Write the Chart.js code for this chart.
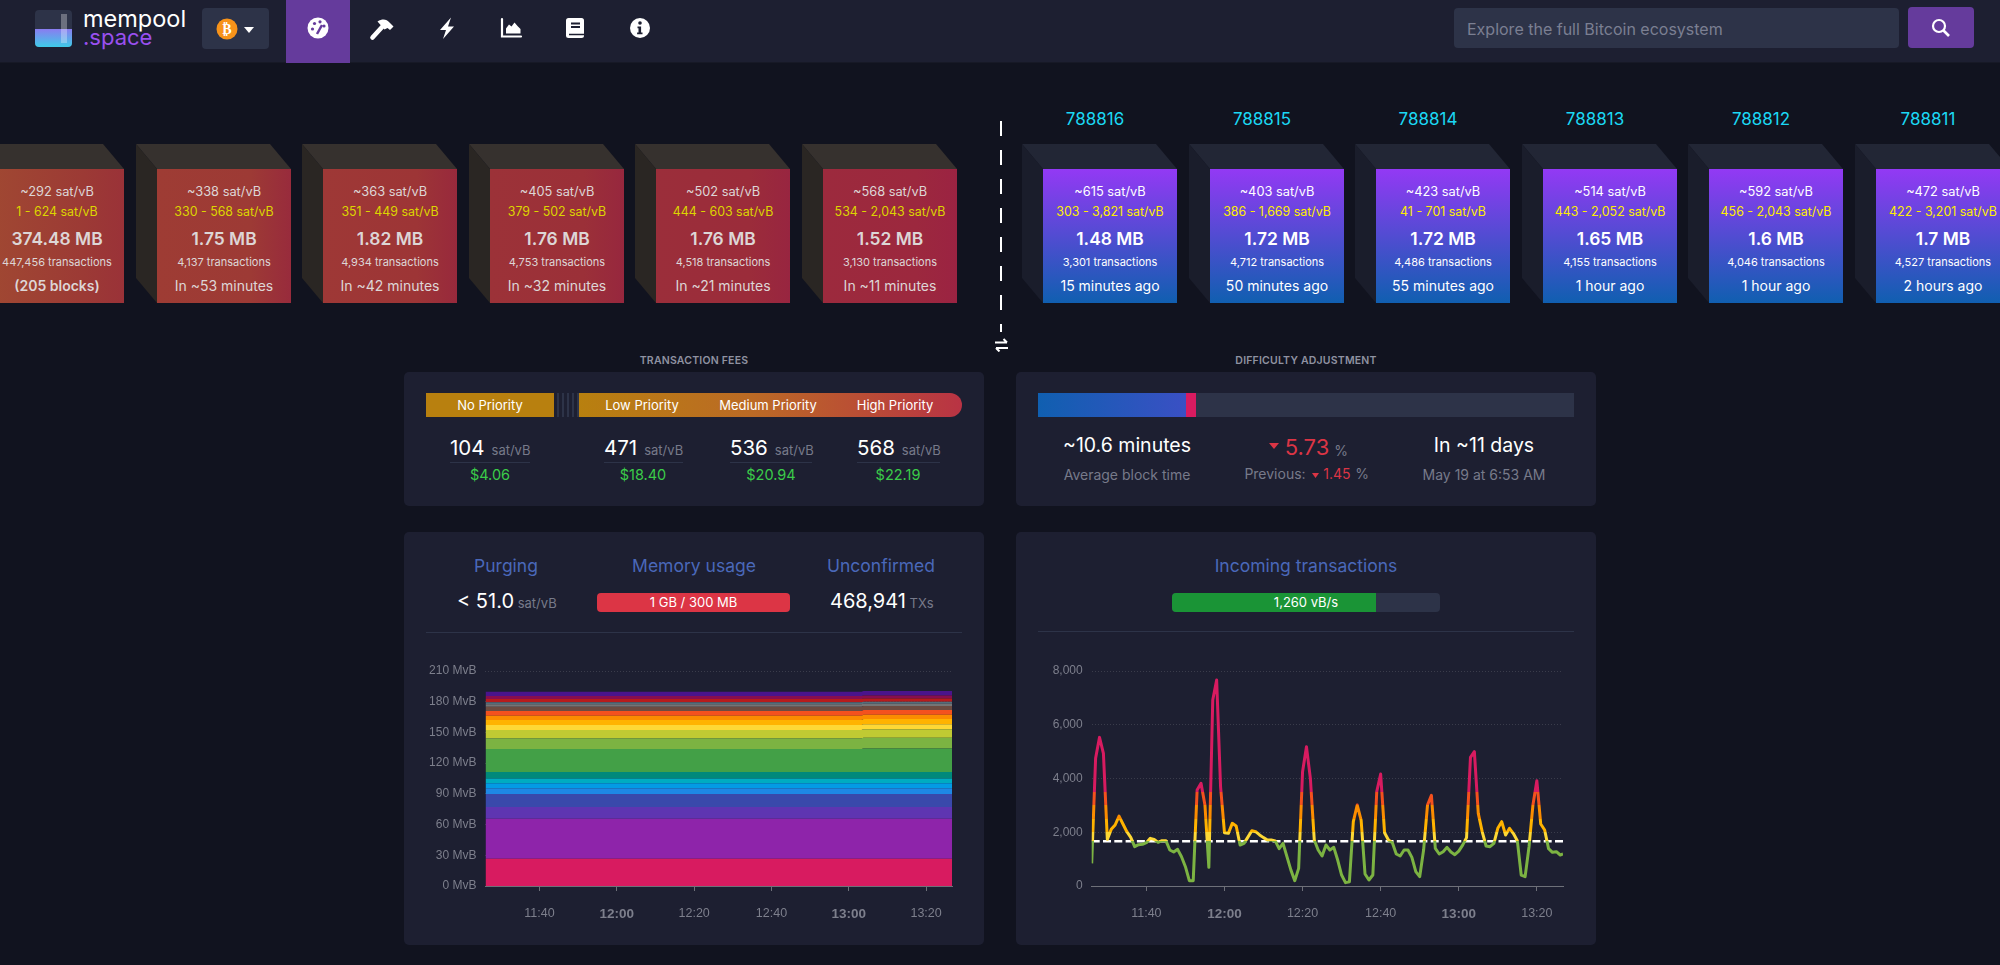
<!DOCTYPE html>
<html>
<head>
<meta charset="utf-8">
<title>mempool - Bitcoin Explorer</title>
<script src="https://cdn.jsdelivr.net/npm/chart.js@4"></script>
<style>
html,body{margin:0;padding:0;background:#11131f;}
body{width:2000px;height:965px;overflow:hidden;position:relative;font-family:Inter,"Noto Sans",sans-serif;color:#fff;}
.abs{position:absolute;}
.t{position:absolute;white-space:nowrap;transform:translate(-50%,-50%);}
.card{position:absolute;background:#1d1f31;border-radius:5px;}
.header{position:absolute;left:0;top:0;width:2000px;height:63px;background:#1d1f31;border-bottom:1px solid #171926;box-sizing:border-box;}
.nav{position:absolute;top:14px;width:28px;height:28px;}
.face{position:absolute;top:169px;width:134px;height:134px;}
.grey{color:#777a8a;}
.sect{font-size:10.5px;font-weight:600;color:#8f92a1;letter-spacing:.2px;}
.blue{color:#4a68b9;font-size:17.5px;}
canvas{position:absolute;}
</style>
</head>
<body>
<div class="header"></div>

<!-- logo -->
<div class="abs" style="left:35px;top:10px;width:37px;height:37px;border-radius:4px;background:#2d3348;overflow:hidden">
  <div class="abs" style="left:0;top:19px;width:37px;height:18px;background:linear-gradient(#8a7cf0,#3ecbe8)"></div>
  <div class="abs" style="left:26px;top:4px;width:6px;height:29px;background:rgba(255,255,255,.3)"></div>
</div>
<div class="t" style="left:83px;top:19px;transform:translateY(-50%);font-size:23.5px;line-height:18px">mempool</div>
<div class="t" style="left:83px;top:37px;transform:translateY(-50%);font-size:22px;line-height:17px;color:#9a50f0">.space</div>

<!-- network selector -->
<div class="abs" style="left:202px;top:8px;width:67px;height:41px;background:#2d3348;border-radius:4px"></div>
<div class="t" style="left:227px;top:29px;width:21px;height:21px;border-radius:50%;background:#f7931a;font-size:14px;font-weight:700;line-height:21px;text-align:center;font-family:'DejaVu Sans'">₿</div>
<svg class="abs" style="left:244px;top:27px" width="10" height="7"><path d="M0 0H10L5 6Z" fill="#fff"/></svg>

<!-- nav -->
<div class="abs" style="left:286px;top:0;width:64px;height:63px;background:#653b9c"></div>
<svg class="nav" style="left:304px" viewBox="0 0 28 28"><circle cx="14" cy="14" r="10.5" fill="#fff"/><circle cx="8.5" cy="15" r="1.6" fill="#653b9c"/><circle cx="10.5" cy="9.5" r="1.6" fill="#653b9c"/><circle cx="16" cy="7.8" r="1.6" fill="#653b9c"/><circle cx="20" cy="12" r="1.6" fill="#653b9c"/><path d="M13 20L18 11" stroke="#653b9c" stroke-width="2.5"/></svg>
<svg class="nav" style="left:368px" viewBox="0 0 28 28"><path d="M4.5 23.5L15 12" stroke="#fff" stroke-width="4.6" stroke-linecap="round"/><path d="M9.5 7.5c5-3 9-2.5 12 1l4 4-3.5 3.5-2.5-2-3 1.5Z" fill="#fff"/></svg>
<svg class="nav" style="left:433px" viewBox="0 0 28 28"><path d="M18 3.5L7 16h6l-3 9 11-12.5h-6Z" fill="#fff"/></svg>
<svg class="nav" style="left:497px" viewBox="0 0 28 28"><path d="M5 5V22.5H24" fill="none" stroke="#fff" stroke-width="2.2" stroke-linecap="round"/><path d="M9 19.5v-5l3-4 2.5 2 3-4 3 3.500 3 3v4.500Z" fill="#fff"/></svg>
<svg class="nav" style="left:561px" viewBox="0 0 28 28"><rect x="5" y="4" width="18" height="20" rx="2.500" fill="#fff"/><path d="M10 9.500h9M10 13h9" stroke="#1d1f31" stroke-width="1.800"/><path d="M8 20.500h15" stroke="#1d1f31" stroke-width="1.500"/></svg>
<svg class="nav" style="left:626px" viewBox="0 0 28 28"><circle cx="14" cy="14" r="10" fill="#fff"/><circle cx="14" cy="9" r="1.800" fill="#1d1f31"/><path d="M11.500 12.500h3.600v6h1.400v1.800h-5.400v-1.800h1.400v-4.200h-1Z" fill="#1d1f31"/></svg>

<!-- search -->
<div class="abs" style="left:1454px;top:8px;width:445px;height:40px;background:#2d3348;border-radius:4px"></div>
<div class="t" style="left:1467px;top:29px;transform:translateY(-50%);font-size:16px;color:#7b7f92">Explore the full Bitcoin ecosystem</div>
<div class="abs" style="left:1908px;top:7px;width:66px;height:41px;background:#653b9c;border-radius:4px"></div>
<svg class="abs" style="left:1931px;top:18px" width="20" height="20"><circle cx="8" cy="8" r="6" fill="none" stroke="#fff" stroke-width="2.2"/><path d="M12.500 12.500L18 18" stroke="#fff" stroke-width="2.6"/></svg>

<div id="blocks"></div>

<!-- divider between mempool and chain -->
<div class="abs" style="left:1000px;top:121px;width:2px;height:211px;background:repeating-linear-gradient(#fff 0 15px,transparent 15px 29px)"></div>
<svg class="abs" style="left:994px;top:338px" width="15" height="14"><path d="M1 4.500H13M9.500 1L13 4.500M14 10H2M5.500 13.500L2 10" stroke="#fff" stroke-width="2" fill="none"/></svg>

<!-- fees -->
<div class="t sect" style="left:694px;top:360px">TRANSACTION FEES</div>
<div class="card" style="left:404px;top:372px;width:580px;height:134px"></div>
<div class="abs" style="left:426px;top:393px;width:128px;height:24px;background:#b8800f"></div>
<div class="abs" style="left:554px;top:393px;width:25px;height:24px;background:repeating-linear-gradient(90deg,transparent 0 3px,#2d3348 3px 5px)"></div>
<div class="abs" style="left:579px;top:393px;width:383px;height:24px;background:linear-gradient(90deg,#b8800f,#bb6a25 45%,#b93344);border-radius:0 12px 12px 0"></div>
<div id="fees"></div>

<!-- difficulty -->
<div class="t sect" style="left:1306px;top:360px">DIFFICULTY ADJUSTMENT</div>
<div class="card" style="left:1016px;top:372px;width:580px;height:134px"></div>
<div class="abs" style="left:1038px;top:393px;width:536px;height:24px;background:#2d3348"></div>
<div class="abs" style="left:1038px;top:393px;width:148px;height:24px;background:linear-gradient(90deg,#105fb0,#3a50c4)"></div>
<div class="abs" style="left:1186px;top:393px;width:10px;height:24px;background:#d81b60"></div>
<div class="t" style="left:1127px;top:445px;font-size:19.5px">~10.6 minutes</div>
<div class="t grey" style="left:1127px;top:474px;font-size:14px">Average block time</div>
<svg class="abs" style="left:1269px;top:443px" width="10" height="7"><path d="M0 0H10L5 6Z" fill="#dc3545"/></svg>
<div class="t" style="left:1307px;top:447px;font-size:22px;color:#dc3545">5.73</div>
<div class="t grey" style="left:1341px;top:450px;font-size:14px">%</div>
<div class="t grey" style="left:1275px;top:473px;font-size:14px">Previous:</div>
<svg class="abs" style="left:1312px;top:473px" width="7" height="5"><path d="M0 0H7L3.500 5Z" fill="#dc3545"/></svg>
<div class="t" style="left:1337px;top:473px;font-size:14px;color:#dc3545">1.45</div>
<div class="t grey" style="left:1362px;top:473px;font-size:14px">%</div>
<div class="t" style="left:1484px;top:445px;font-size:19.5px">In ~11 days</div>
<div class="t grey" style="left:1484px;top:474px;font-size:14px">May 19 at 6:53 AM</div>

<!-- mempool card -->
<div class="card" style="left:404px;top:532px;width:580px;height:413px"></div>
<div class="t blue" style="left:506px;top:565px">Purging</div>
<div class="t blue" style="left:694px;top:565px">Memory usage</div>
<div class="t blue" style="left:881px;top:565px">Unconfirmed</div>
<div class="t" style="left:457px;top:601px;transform:translateY(-50%);font-size:20px">&lt; 51.0 <span class="grey" style="font-size:13px;margin-left:-2px">sat/vB</span></div>
<div class="abs" style="left:597px;top:593px;width:193px;height:19px;background:#dc3545;border-radius:4px;font-size:13px;line-height:19px;text-align:center">1 GB / 300 MB</div>
<div class="t" style="left:830px;top:601px;transform:translateY(-50%);font-size:20px">468,941 <span class="grey" style="font-size:13px;margin-left:-2px">TXs</span></div>
<div class="abs" style="left:426px;top:632px;width:536px;height:1px;background:#2d3348"></div>
<canvas id="memChart" width="560" height="290" style="left:410px;top:650px;width:560px;height:290px"></canvas>

<!-- incoming card -->
<div class="card" style="left:1016px;top:532px;width:580px;height:413px"></div>
<div class="t blue" style="left:1306px;top:565px">Incoming transactions</div>
<div class="abs" style="left:1172px;top:593px;width:268px;height:19px;background:#2d3348;border-radius:4px"></div>
<div class="abs" style="left:1172px;top:593px;width:204px;height:19px;background:#1a9436;border-radius:4px 0 0 4px"></div>
<div class="t" style="left:1306px;top:602px;font-size:13px">1,260 vB/s</div>
<div class="abs" style="left:1038px;top:631px;width:536px;height:1px;background:#2d3348"></div>
<canvas id="inChart" width="560" height="290" style="left:1020px;top:650px;width:560px;height:290px"></canvas>

<script>
// mempool blocks (left of the divider)
const pendingCenters = [57, 224, 390, 557, 723, 890];
const pendingMedian = ["~292", "~338", "~363", "~405", "~502", "~568"];
const pendingRange = ["1 - 624", "330 - 568", "351 - 449", "379 - 502", "444 - 603", "534 - 2,043"];
const pendingSize = ["374.48 MB", "1.75 MB", "1.82 MB", "1.76 MB", "1.76 MB", "1.52 MB"];
const pendingTx = ["447,456", "4,137", "4,934", "4,753", "4,518", "3,130"];
const pendingEta = ["(205 blocks)", "In ~53 minutes", "In ~42 minutes", "In ~32 minutes", "In ~21 minutes", "In ~11 minutes"];
const pendingColorL = ["#a04832", "#9e3c34", "#9e3836", "#9c3238", "#9b2e3a", "#9c2a3d"];
const pendingColorM = ["#9c3a35", "#9d3a35", "#9d3536", "#9b3038", "#9b2c3a", "#9c283e"];
const pendingColorR = ["#9a3238", "#982b3c", "#98293c", "#97273e", "#982540", "#9b2342"];

// mined blocks (right of the divider)
const minedCenters = [1110, 1277, 1443, 1610, 1776, 1943];
const minedHeight = ["788816", "788815", "788814", "788813", "788812", "788811"];
const minedMedian = ["~615", "~403", "~423", "~514", "~592", "~472"];
const minedRange = ["303 - 3,821", "386 - 1,669", "41 - 701", "443 - 2,052", "456 - 2,043", "422 - 3,201"];
const minedSize = ["1.48 MB", "1.72 MB", "1.72 MB", "1.65 MB", "1.6 MB", "1.7 MB"];
const minedTx = ["3,301", "4,712", "4,486", "4,155", "4,046", "4,527"];
const minedAge = ["15 minutes ago", "50 minutes ago", "55 minutes ago", "1 hour ago", "1 hour ago", "2 hours ago"];

// fee table
const feeLabels = ["No Priority", "Low Priority", "Medium Priority", "High Priority"];
const feeLabelX = [490, 642, 768, 895];
const feeValues = ["104", "471", "536", "568"];
const feeLeft = [450, 604, 730, 857];
const feeRight = [530, 683, 812, 940];
const feeFiat = ["$4.06", "$18.40", "$20.94", "$22.19"];
const feeFiatX = [490, 643, 771, 898];

// chart axes, minutes since midnight
const xTickMinutes = [700, 720, 740, 760, 780, 800];
const xTickLabels = ["11:40", "12:00", "12:20", "12:40", "13:00", "13:20"];
const xStart = 686;
const xEnd = 806.7;

// mempool size by fee band, MvB, before and after the small step near 13:03
const bandTimes = [686, 783.3, 783.8, 806.7];
const bandColors = ["#D81B60", "#8E24AA", "#5E35B1", "#3949AB", "#1E88E5", "#039BE5", "#00ACC1", "#00897B", "#43A047", "#7CB342", "#C0CA33", "#FDD835", "#FFB300", "#FB8C00", "#F4511E", "#6D4C41", "#757575", "#546E7A", "#B71C1C", "#880E4F", "#4A148C"];
const bandSizeBefore = [26.7, 39.1, 11.4, 12.7, 5.5, 4.9, 4.6, 6.5, 22.4, 10.5, 8.1, 4.9, 4.9, 4.2, 4.6, 4.2, 2.3, 1.9, 3.3, 2.9, 4.2];
const bandSizeAfter = [26.7, 39.1, 11.4, 12.7, 5.5, 4.9, 4.6, 6.5, 23.0, 10.5, 8.1, 4.9, 5.1, 4.2, 4.7, 4.0, 2.1, 1.9, 3.3, 2.9, 4.3];

// incoming transactions, vB/s, one reading a minute
const incomingMinutes = [686, 687, 688, 689, 690, 691, 692, 693, 694, 695, 696, 697, 698, 699, 700, 701, 702, 703, 704, 705, 706, 707, 708, 709, 710, 711, 712, 713, 714, 715, 716, 717, 718, 719, 720, 721, 722, 723, 724, 725, 726, 727, 728, 729, 730, 731, 732, 733, 734, 735, 736, 737, 738, 739, 740, 741, 742, 743, 744, 745, 746, 747, 748, 749, 750, 751, 752, 753, 754, 755, 756, 757, 758, 759, 760, 761, 762, 763, 764, 765, 766, 767, 768, 769, 770, 771, 772, 773, 774, 775, 776, 777, 778, 779, 780, 781, 782, 783, 784, 785, 786, 787, 788, 789, 790, 791, 792, 793, 794, 795, 796, 797, 798, 799, 800, 801, 802, 803, 804, 805, 806, 806.7];
const incomingValues = [843, 4750, 5530, 4935, 1736, 2108, 2270, 2600, 2306, 2020, 1810, 1463, 1538, 1550, 1612, 1773, 1736, 1624, 1686, 1686, 1340, 1265, 1364, 1091, 719, 198, 198, 3571, 3819, 3013, 694, 6919, 7663, 3695, 1984, 1959, 2331, 2232, 1525, 1587, 1820, 2058, 2020, 1900, 1800, 1711, 1711, 1680, 1389, 1587, 1091, 600, 198, 657, 4253, 5183, 4005, 1711, 1340, 1116, 1525, 1340, 1438, 967, 409, 124, 161, 2393, 3013, 2455, 446, 223, 409, 3509, 4166, 1984, 1711, 1612, 1190, 1116, 1339, 1339, 1066, 533, 347, 1339, 3013, 3373, 1401, 1190, 1277, 1438, 1265, 1166, 1300, 1520, 1800, 4786, 4997, 2703, 2021, 1488, 1463, 1587, 2145, 2393, 1897, 2145, 1950, 1686, 409, 347, 1463, 3013, 3918, 2306, 2083, 1389, 1252, 1277, 1153, 1190];
const minFeeLimit = 1667;
const incomingLimits = [0, 1667, 2000, 2500, 3000, 3500, 8000];
const incomingColors = ["#7CB342", "#FDD835", "#FFB300", "#FB8C00", "#F4511E", "#D81B60"];

function addText(parent, text, x, y, size, color, weight){
  const d = document.createElement("div");
  d.className = "t";
  d.textContent = text;
  d.style.left = x + "px";
  d.style.top = y + "px";
  d.style.fontSize = size + "px";
  d.style.color = color;
  if(weight) d.style.fontWeight = weight;
  parent.appendChild(d);
  return d;
}

// one block: 3d sides plus the front face with five lines of text
function addBlock(parent, cx, topCol, sideCol, faceBg, txt, yellow, white, med, range, size, tx, last){
  const left = cx - 67;
  const svg = document.createElementNS("http://www.w3.org/2000/svg", "svg");
  svg.setAttribute("width", 160);
  svg.setAttribute("height", 170);
  svg.style.cssText = `position:absolute;left:${left-21}px;top:144px`;
  svg.innerHTML = `<path d="M0 0H134L155 25H21Z" fill="${topCol}"/><path d="M0 0L21 25V159L0 134Z" fill="${sideCol}"/>`;
  parent.appendChild(svg);
  const face = document.createElement("div");
  face.className = "face";
  face.style.left = left + "px";
  face.style.background = faceBg;
  parent.appendChild(face);
  addText(parent, med + " sat/vB", cx, 191, 12.8, txt);
  addText(parent, range + " sat/vB", cx, 211, 12.4, yellow);
  addText(parent, size, cx, 238, 17.4, white, 600);
  addText(parent, tx + " transactions", cx, 262, 11, txt);
  addText(parent, last, cx, 285, 14, txt, last[0] === "(" ? 600 : 400);
}

const blocksEl = document.getElementById("blocks");
pendingCenters.forEach((cx, i) => {
  addBlock(blocksEl, cx, "#36312e", "#2a2623", `linear-gradient(90deg,${pendingColorL[i]},${pendingColorM[i]} 70%,${pendingColorR[i]})`,
    "#ddd6d6", "#dcd500", "#ddd6d6", pendingMedian[i], pendingRange[i], pendingSize[i], pendingTx[i], pendingEta[i]);
});
minedCenters.forEach((cx, i) => {
  addBlock(blocksEl, cx, "#222635", "#1a1d2b", "linear-gradient(#9339f4,#105fb0)",
    "#fff", "#ffee00", "#fff", minedMedian[i], minedRange[i], minedSize[i], minedTx[i], minedAge[i]);
  addText(blocksEl, minedHeight[i], cx - 15, 119, 17, "#1bd8f4");
});

const feesEl = document.getElementById("fees");
feeLabels.forEach((l, i) => {
  addText(feesEl, l, feeLabelX[i], 405, 13, "#fff");
  const row = addText(feesEl, feeValues[i], feeLeft[i], 447, 20.5, "#fff");
  row.style.transform = "translateY(-50%)";
  const unit = document.createElement("span");
  unit.textContent = "sat/vB";
  unit.className = "grey";
  unit.style.cssText = "font-size:13px;margin-left:7px";
  row.appendChild(unit);
  const rule = document.createElement("div");
  rule.className = "abs";
  rule.style.cssText = `left:${feeLeft[i]}px;top:462px;width:${feeRight[i]-feeLeft[i]}px;height:1px;background:#2d3348`;
  feesEl.appendChild(rule);
  addText(feesEl, feeFiat[i], feeFiatX[i], 474, 14.5, "#3bcc49");
});

// shared x axis of both charts
function timeAxis(height){
  return {
    type: "linear",
    min: xStart,
    max: xEnd,
    afterFit: s => { s.height = height; },
    grid: {drawOnChartArea: false, drawTicks: true, tickLength: 5, color: "#6e7079"},
    border: {color: "#6e7079", width: 1},
    ticks: {
      stepSize: 20,
      includeBounds: false,
      maxRotation: 0,
      padding: 15,
      color: "#7d7f8c",
      font: ctx => {
        const bold = ctx.tick && ctx.tick.value % 60 === 0;
        return {family: "Liberation Sans", size: bold ? 13.5 : 12.5, weight: bold ? "bold" : "normal"};
      },
      callback: v => xTickLabels[xTickMinutes.indexOf(v)]
    }
  };
}

function valueAxis(max, step, width, format, stacked){
  return {
    min: 0,
    max: max,
    stacked: stacked,
    afterFit: s => { s.width = width; },
    grid: {drawTicks: false, color: "rgba(255,255,255,.13)"},
    border: {display: false, dash: [1, 2]},
    ticks: {
      stepSize: step,
      padding: 9,
      color: "#7d7f8c",
      font: {family: "Liberation Sans", size: 12},
      callback: format
    }
  };
}

const baseOptions = {
  responsive: false,
  animation: false,
  plugins: {legend: {display: false}, tooltip: {enabled: false}},
  elements: {point: {radius: 0}, line: {tension: 0}}
};

new Chart(document.getElementById("memChart").getContext("2d"), {
  type: "line",
  data: {
    datasets: bandColors.map((c, i) => ({
      data: bandTimes.map((t, k) => ({x: t, y: k < 2 ? bandSizeBefore[i] : bandSizeAfter[i]})),
      borderWidth: 0,
      borderColor: c,
      backgroundColor: c,
      fill: i === 0 ? "origin" : "-1"
    }))
  },
  options: {
    ...baseOptions,
    layout: {padding: {top: 21, right: 18, left: 0, bottom: 0}},
    scales: {
      x: timeAxis(54),
      y: valueAxis(210, 30, 75.4, v => v + " MvB", true)
    }
  }
});

// colour the line by value with hard stops
function incomingGradient(ctx){
  const chart = ctx.chart;
  if(!chart.chartArea) return incomingColors[0];
  const y = chart.scales.y;
  const g = chart.ctx.createLinearGradient(0, y.getPixelForValue(0), 0, y.getPixelForValue(8000));
  incomingColors.forEach((c, i) => {
    g.addColorStop(incomingLimits[i] / 8000, c);
    g.addColorStop(incomingLimits[i + 1] / 8000, c);
  });
  return g;
}

new Chart(document.getElementById("inChart").getContext("2d"), {
  type: "line",
  data: {
    datasets: [
      {
        data: incomingMinutes.map((t, i) => ({x: t, y: incomingValues[i]})),
        borderWidth: 3,
        borderJoinStyle: "round",
        borderColor: incomingGradient,
        fill: false
      },
      {
        data: [{x: xStart, y: minFeeLimit}, {x: xEnd, y: minFeeLimit}],
        borderWidth: 2.5,
        borderColor: "#fff",
        borderDash: [8, 3.3],
        fill: false
      }
    ]
  },
  options: {
    ...baseOptions,
    layout: {padding: {top: 21, right: 17, left: 0, bottom: 0}},
    scales: {
      x: timeAxis(54),
      y: valueAxis(8000, 2000, 71.7, v => v.toLocaleString("en-US"), false)
    }
  }
});
</script>
</body>
</html>
